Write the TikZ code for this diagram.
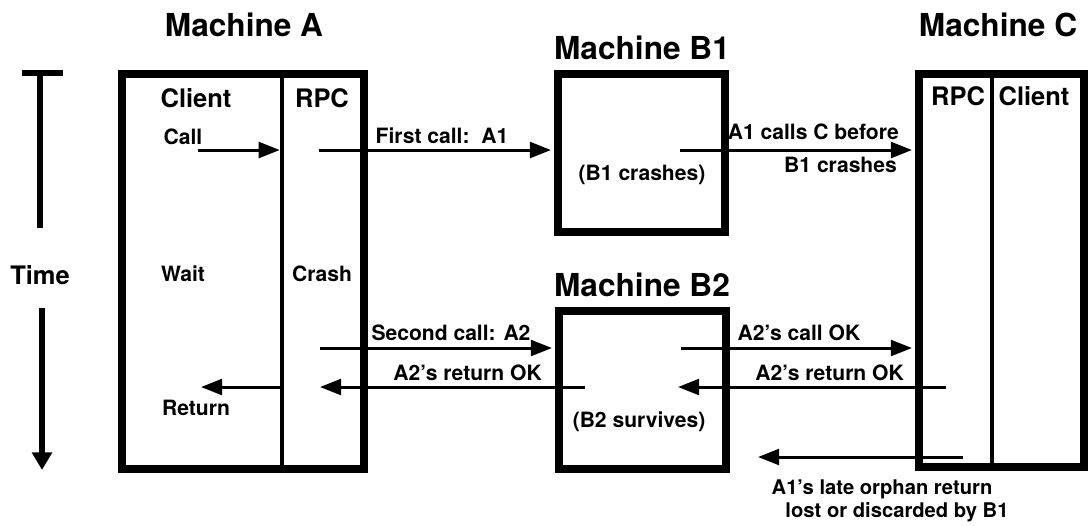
\documentclass[tikz,border=0pt]{standalone}
\usepackage{fontspec}
\setmainfont{TeX Gyre Heros}
\usetikzlibrary{arrows.meta, fit}

\begin{document}
\begin{tikzpicture}[x=0.02cm, y=-0.02cm,
		box/.style={draw, line width=4pt, inner sep=0pt},
		divider/.style={line width=2.6pt},
		arr/.style={line width=1.7pt, -{Triangle[length=12pt, width=9pt]}},
		title/.style={font=\fontsize{18}{20}\selectfont\bfseries},
		head/.style={font=\fontsize{14.5}{16}\selectfont\bfseries},
		lbl/.style={font=\fontsize{12}{14}\selectfont\bfseries},
		orph/.style={font=\fontsize{11.5}{13}\selectfont\bfseries}]
	\useasboundingbox (0,0) rectangle (1089,525);

	% time axis
	\coordinate (tTop) at (40,73);
	\coordinate (tBot) at (40,228);
	\coordinate (barL) at (22,73);
	\coordinate (barR) at (63,73);
	\draw[line width=3.3pt] (tTop) -- (tBot);
	\draw[line width=3pt] (barL) -- (barR);
	\node[head] (time) at (40,275) {Time};
	\coordinate (timeS) at (42,308);
	\coordinate (timeE) at (42,470);
	\draw[line width=3.2pt, -{Triangle[length=10pt, width=11pt]}] (timeS) -- (timeE);

	% machines
	\node[title] (tA) at (244,25) {Machine A};
	\node[title] (tB1) at (642,48) {Machine B1};
	\node[title] (tC) at (998,25) {Machine C};
	\node[title] (tB2) at (642,285) {Machine B2};

	\node[box, fit={(122,74) (364,469)}] (A) {};
	\node[box, fit={(558,74) (725,232)}] (B1) {};
	\node[box, fit={(559,311) (726,469)}] (B2) {};
	\node[box, fit={(919,74) (1084,467)}] (C) {};

	\coordinate (Adiv) at (282,74);
	\coordinate (Cdiv) at (992,74);
	\draw[divider] (Adiv) -- (Adiv |- A.south);
	\draw[divider] (Cdiv) -- (Cdiv |- C.south);

	\node[head] (Aclient) at (196,98) {Client};
	\node[head] (Arpc) at (322,98) {RPC};
	\node[head] (Crpc) at (958,96) {RPC};
	\node[head] (Cclient) at (1034,96) {Client};

	\node[lbl] (call) at (183,137) {Call};
	\node[lbl] (wait) at (183,274) {Wait};
	\node[lbl] (crash) at (322,274) {Crash};
	\node[lbl] (ret) at (196,408) {Return};
	\node[lbl] (b1crash) at (642,175) {(B1 crashes)};
	\node[lbl] (b2surv) at (639,422) {(B2 survives)};

	% first call
	\coordinate (callS) at (198,150);
	\draw[arr, shorten >=1.3pt] (callS) -- (callS -| Adiv);
	\coordinate (first) at (319,150);
	\draw[arr, shorten >=2pt] (first) -- (first -| B1.west);
	\node[lbl] (firstL) at (442,136) {First call:\ \ A1};
	\coordinate (b1out) at (680,150);
	\draw[arr, shorten >=2pt] (b1out) -- (b1out -| C.west);
	\node[lbl, anchor=east] (callsC) at (905,132) {A1 calls C before};
	\node[lbl, anchor=east] (crashesR) at (903,165) {B1 crashes};

	% second call
	\coordinate (second) at (320,348);
	\draw[arr, shorten >=2pt] (second) -- (second -| B2.west);
	\node[lbl] (secondL) at (451,333) {Second call: A2};
	\coordinate (b2out) at (681,348);
	\draw[arr, shorten >=2pt] (b2out) -- (b2out -| C.west);
	\node[lbl] (callOK) at (799,333) {A2's call OK};

	% returns
	\coordinate (cret) at (946,387);
	\coordinate (cretEnd) at (678,387);
	\draw[arr] (cret) -- (cretEnd);
	\node[lbl, anchor=east] (cretL) at (910,373) {A2's return OK};
	\coordinate (b2ret) at (585,387);
	\coordinate (aret) at (320,387);
	\draw[arr] (b2ret) -- (aret);
	\node[lbl, anchor=east] (retL) at (548,373) {A2's return OK};
	\coordinate (retEnd) at (201,387);
	\draw[arr] (retEnd -| Adiv) -- (retEnd);

	% orphan
	\coordinate (orphS) at (963,457);
	\coordinate (orphE) at (758,457);
	\draw[arr] (orphS) -- (orphE);
	\node[orph] (orph1) at (882,489) {A1's late orphan return};
	\node[orph] (orph2) at (897,512) {lost or discarded by B1};
\end{tikzpicture}
\end{document}
